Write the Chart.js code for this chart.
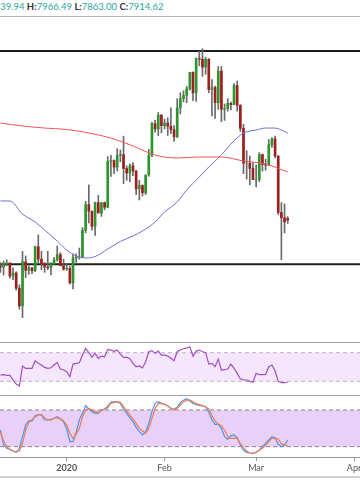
<!DOCTYPE html>
<html>
<head>
<meta charset="utf-8">
<script src="https://cdn.jsdelivr.net/npm/chart.js@4.4.1/dist/chart.umd.min.js"></script>
<style>
  body { margin: 0; width: 360px; height: 504px; overflow: hidden; background: #fff; position: relative; font-family: Lato, sans-serif; }
  #head { position: absolute; left: -21px; top: 0; font-size: 9.5px; line-height: 13px; white-space: nowrap; color: #2aa79b; }
  #head b { color: #333; }
  .rule { position: absolute; left: 0; width: 360px; }
  .pane { position: absolute; left: 0; width: 360px; }
</style>
</head>
<body>
<div id="head"><b>O:</b>7939.94 <b>H:</b>7966.49 <b>L:</b>7863.00 <b>C:</b>7914.62</div>
<div class="rule" style="top:16px;height:1px;background:#b5b5b5"></div>
<div class="pane" style="top:17px;height:326px"><canvas id="main"></canvas></div>
<div class="rule" style="top:342px;height:1px;background:#a0a0a0"></div>
<div class="pane" style="top:343px;height:53px"><canvas id="rsi"></canvas></div>
<div class="rule" style="top:395px;height:1px;background:#a0a0a0"></div>
<div class="pane" style="top:396px;height:81px"><canvas id="stoch"></canvas></div>
<div class="rule" style="top:476px;height:2px;background:#cfcfcf"></div>

<script>
// day 0 = 1 Jan 2020, one candle per day from 11 Dec 2019 to 11 Mar 2020
const firstDay = -21;

const open  = [7220,7200,7250,7260,7065,7110,6880,6610,7280,7150,7190,7145,7510,7320,7250,7200,7190,7250,7310,7390,7220,
               7170,7180,6960,7340,7350,7350,7760,8150,8050,7820,8180,8020,8180,8110,8810,8820,8720,8900,8910,8700,8630,8740,8660,8390,8440,8330,8600,8900,9380,9300,9510,
               9350,9390,9340,9290,9180,9620,9760,9810,9910,10160,9850,10370,10360,10240,10360,9900,9930,9700,10180,9600,9610,9690,9670,9960,9660,9310,8780,8780,8700,
               8530,8530,8910,8760,8750,9060,9150,8890,8030,7950,7939.94];
const high  = [7270,7290,7310,7270,7190,7130,6930,7440,7370,7220,7190,7520,7690,7440,7270,7440,7270,7350,7520,7420,7320,
               7250,7210,7400,7400,7490,7800,8200,8450,8050,8190,8290,8180,8190,8880,8900,8830,9000,8980,9190,8740,8770,8790,8670,8520,8450,8600,8990,9400,9430,9550,9520,
               9450,9470,9620,9350,9760,9850,9880,9950,10160,10170,10380,10480,10520,10390,10370,10050,9950,10250,10250,9680,9760,9710,9990,10030,9670,9370,8970,8890,8790,
               8750,8940,8920,8840,9140,9170,9190,8890,8180,8160,7966.49];
const low   = [7120,7080,7220,7030,7010,6850,6560,6430,7040,7090,7100,7130,7260,7160,7120,7160,7080,7240,7290,7220,7150,
               7150,6940,6870,7270,7320,7350,7720,7870,7760,7680,8040,7970,8070,8100,8580,8620,8660,8800,8470,8520,8500,8590,8300,8220,8280,8300,8580,8880,9250,9200,9240,
               9300,9200,9230,9110,9170,9530,9710,9700,9890,9730,9720,10260,10100,10130,9850,9500,9460,9600,9410,9430,9570,9590,9670,9570,9260,8620,8540,8450,8530,
               8420,8500,8660,8670,8750,9020,8860,8000,7310,7720,7863.00];
const close = [7200,7250,7260,7065,7110,6880,6610,7280,7150,7190,7145,7510,7320,7250,7200,7190,7250,7310,7390,7220,7170,
               7180,6960,7340,7350,7350,7760,8150,8050,7820,8180,8020,8180,8110,8810,8820,8720,8900,8910,8700,8630,8740,8660,8390,8440,8330,8600,8900,9380,9300,9510,9350,
               9390,9340,9290,9180,9620,9760,9810,9910,10160,9850,10370,10360,10240,10360,9900,9930,9700,10180,9600,9610,9690,9670,9960,9660,9310,8780,8780,8700,8530,
               8530,8910,8760,8750,9060,9150,8890,8030,7950,7885,7914.62];

// moving averages
const maSlowDays = [-21,-14,-7,0,7,14,21,28,35,42,49,56,63,70];
const maSlow     = [9390,9345,9314,9292,9238,9162,9041,8904,8858,8874,8874,8813,8767,8646];
const maFastDays = [-21,-18,-14,-10,-7,-3,0,3,6,9,13,17,21,24,28,31,35,38,42,45,49,52,56,60,63,66,70];
const maFast     = [8205,8205,8007,7886,7764,7597,7460,7369,7338,7361,7475,7590,7673,7749,7886,8038,8190,8372,8570,8722,8904,9071,9238,9284,9314,9314,9238];

// horizontal levels
const levels = [10485, 7245];

const rsi = [38.8,39.2,38.3,38.3,31.8,26.2,23.4,51.4,48.1,48.1,48.1,58.8,55.1,52.8,49.5,48.1,49.0,52.8,56.5,47.2,45.8,
             43.4,36.4,54.1,55.1,56.0,66.7,76.1,70.0,63.5,69.1,62.1,65.3,64.4,74.7,73.7,71.9,73.7,68.1,63.5,63.5,61.6,55.1,50.4,51.4,48.6,57.4,71.4,72.8,69.1,72.3,66.7,
             66.7,65.3,62.1,58.8,71.4,73.7,75.6,76.5,78.4,65.3,72.3,73.7,71.4,70.0,54.1,55.1,50.4,60.7,45.8,46.2,47.2,54.1,48.1,41.1,33.6,31.8,31.8,29.9,28.5,
             41.1,39.2,39.2,39.7,50.4,52.8,44.8,29.9,28.0,28.0,29.0];
const rsiBands = [70, 30];

const stochK = [47.3,22.7,17.3,15.6,12.9,10.7,17.3,36.4,55.5,62.5,62.0,70.7,72.4,71.8,63.6,63.6,64.7,66.4,69.1,65.3,60.9,
                48.9,28.2,28.2,43.5,63.6,74.5,87.1,81.6,77.3,74.5,74.5,80.0,81.6,83.8,92.5,93.6,93.1,90.9,81.6,74.5,67.5,60.9,51.6,44.5,39.1,43.5,58.2,77.3,90.9,93.6,90.9,
                89.3,87.1,82.7,81.1,84.4,92.5,95.8,98.5,94.7,90.9,89.3,87.6,86.5,85.5,76.2,63.6,56.5,56.5,50.0,36.4,32.0,38.0,39.1,34.7,22.7,14.0,10.7,9.6,9.1,
                10.7,14.5,20.0,25.5,30.9,36.4,34.7,23.8,20.0,22.7,30.9];
const stochD = [43.5,29.3,20.0,15.6,12.9,11.3,12.9,25.5,47.3,59.8,64.7,68.5,71.8,72.9,67.5,64.2,63.6,66.9,66.9,65.8,62.0,
                55.5,41.8,33.6,40.2,50.0,69.1,80.0,82.7,80.0,77.3,76.2,78.9,81.6,87.1,90.9,92.5,93.6,92.5,85.5,78.4,71.8,65.3,58.2,50.0,45.6,41.8,50.0,66.4,82.7,90.4,90.9,
                89.3,86.5,82.7,80.0,82.7,88.2,93.6,95.8,96.4,93.6,90.4,88.7,87.1,84.9,81.6,70.7,62.0,57.1,54.4,47.3,36.4,33.6,33.6,33.6,25.5,18.4,12.9,9.6,9.1,
                10.7,14.0,17.3,22.7,28.2,33.6,33.6,32.5,24.9,22.7,21.6];
const stochBands = [80, 20];

const tickDays = [0, 31, 60, 91];
const tickLabels = ["2020", "Feb", "Mar", "Apr"];

const xMin = -21.13, xMax = 92.9;

Chart.defaults.font.family = "Lato";
Chart.defaults.animation = false;
Chart.defaults.plugins.legend.display = false;
Chart.defaults.plugins.tooltip.enabled = false;

const days = close.map((c, i) => firstDay + i);
const pts = (xs, ys) => xs.map((x, i) => ({ x: x, y: ys[i] }));
const flat = v => [{ x: xMin, y: v }, { x: xMax, y: v }];
const hiddenX = { type: "linear", min: xMin, max: xMax, offset: false, display: false };

new Chart(document.getElementById("main"), {
    type: "bar",
    data: {
        datasets: [
            { type: "line", data: pts(maSlowDays, maSlow), borderColor: "#f25353", borderWidth: 1, pointRadius: 0, cubicInterpolationMode: "monotone" },
            { type: "line", data: pts(maFastDays, maFast), borderColor: "#6f6fd6", borderWidth: 1, pointRadius: 0, cubicInterpolationMode: "monotone" },
            {
                data: days.map((d, i) => ({ x: d, y: [open[i], close[i]] })),
                backgroundColor: days.map((d, i) => close[i] >= open[i] ? "#2e952e" : "#9e1f1f"),
                barThickness: 2, grouped: false
            },
            {
                data: days.map((d, i) => ({ x: d, y: [low[i], high[i]] })),
                backgroundColor: "#6a6a6a", barThickness: 1, grouped: false
            },
            { type: "line", data: flat(levels[0]), borderColor: "#1e1e1e", borderWidth: 2, pointRadius: 0 },
            { type: "line", data: flat(levels[1]), borderColor: "#1e1e1e", borderWidth: 2, pointRadius: 0 }
        ]
    },
    options: {
        responsive: true, maintainAspectRatio: false,
        layout: { padding: 0 },
        scales: {
            x: hiddenX,
            y: { min: 6046, max: 11002, display: false }
        }
    }
});

new Chart(document.getElementById("rsi"), {
    type: "line",
    data: {
        datasets: [
            { data: pts(days, rsi), borderColor: "#a64cc4", borderWidth: 1.2, pointRadius: 0 },
            { data: flat(rsiBands[0]), borderColor: "#bdb0c6", borderWidth: 1, borderDash: [4, 3], pointRadius: 0 },
            { data: flat(rsiBands[1]), borderColor: "#bdb0c6", borderWidth: 1, borderDash: [4, 3], pointRadius: 0, fill: "-1", backgroundColor: "#f3e6fd" }
        ]
    },
    options: {
        responsive: true, maintainAspectRatio: false,
        layout: { padding: 0 },
        scales: {
            x: hiddenX,
            y: { min: 9.4, max: 83.6, display: false }
        }
    }
});

new Chart(document.getElementById("stoch"), {
    type: "line",
    data: {
        datasets: [
            { data: pts(days, stochD), borderColor: "#f27c4e", borderWidth: 1.2, pointRadius: 0 },
            { data: pts(days, stochK), borderColor: "#4d94ee", borderWidth: 1.2, pointRadius: 0 },
            { data: flat(stochBands[0]), borderColor: "#8f8196", borderWidth: 1, borderDash: [4, 3], pointRadius: 0 },
            { data: flat(stochBands[1]), borderColor: "#8f8196", borderWidth: 1, borderDash: [4, 3], pointRadius: 0, fill: "-1", backgroundColor: "#e8d0f8" }
        ]
    },
    options: {
        responsive: true, maintainAspectRatio: false,
        layout: { padding: 0 },
        scales: {
            x: {
                type: "linear", min: xMin, max: xMax, offset: false,
                afterBuildTicks: s => { s.ticks = tickDays.map(v => ({ value: v })); },
                afterFit: s => { s.paddingLeft = 0; s.paddingRight = 0; s.height = 20; },
                ticks: {
                    autoSkip: false, maxRotation: 0, padding: 2, color: "#555",
                    font: c => ({ family: "Lato", size: 9, weight: c.index === 0 ? "bold" : "normal" }),
                    callback: (v, i) => tickLabels[i]
                },
                grid: { drawOnChartArea: false, drawTicks: true, tickLength: 4, color: "#9a9a9a" },
                border: { display: true, color: "#9a9a9a" }
            },
            y: { min: 3.1, max: 102.9, display: false }
        }
    }
});
</script>
</body>
</html>
